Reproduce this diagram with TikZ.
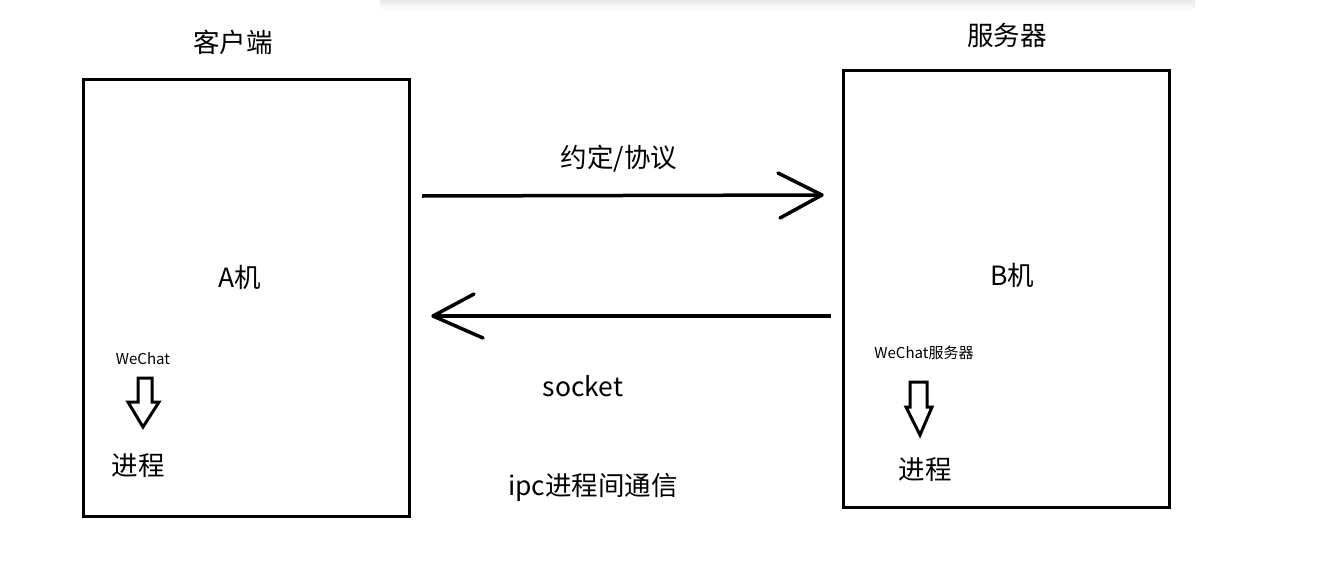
\documentclass[tikz,border=0pt]{standalone}
\usepackage{fontspec}
\setmainfont{Noto Sans CJK SC}
\begin{document}
\begin{tikzpicture}[x=1pt,y=-1pt,
  box/.style={draw=black,line width=3pt,inner sep=0pt},
  link/.style={line width=3.5pt},
  big/.style={font=\fontsize{26.5}{30}\selectfont,inner sep=0pt},
  small/.style={font=\fontsize{15}{17}\selectfont,inner sep=0pt},
  blockarrow/.style={draw=black,line width=3pt,fill=white,line join=miter}]
\useasboundingbox (0,0) rectangle (1318,573);
\fill[white] (0,0) rectangle (1318,573);
\shade[top color=black!9,bottom color=white] (380,0) rectangle (1195,10);
% boxes
\draw[box] (83,79) rectangle (409,516);
\draw[box] (843,70) rectangle (1169,507);
% titles
\node[big] (tA) at (233,42) {客户端};
\node[big] (tB) at (1007,35) {服务器};
\node[big] (mA) at (240,277) {A机};
\node[big] (mB) at (1012,275) {B机};
\node[big] (proto) at (619,159) {约定/协议};
\node[big] (sock) at (583,386) {socket};
\node[big] (ipc) at (593,487) {ipc进程间通信};
\node[small] (wA) at (143,359) {WeChat};
\node[small] (wB) at (924,353) {WeChat服务器};
\node[big] (pA) at (138,466) {进程};
\node[big] (pB) at (925,470) {进程};
% connectors
\coordinate (r1) at (422,196);
\coordinate (r2) at (822,195);
\draw[link] (r1) -- (r2);
\draw[link,line cap=round,line join=round] (778,173) -- (r2) -- (780,218);
\coordinate (l1) at (831,316);
\coordinate (l2) at (433,316);
\draw[link] (l1) -- (l2);
\draw[link,line cap=round,line join=round] (474,294) -- (l2) -- (483,338);
% block arrows
\draw[blockarrow] (138,378) -- (152,378) -- (152,402) -- (159,402) -- (143,427) -- (128,402) -- (138,402) -- cycle;
\draw[blockarrow] (910,382) -- (927,382) -- (927,407) -- (932,407) -- (920,435) -- (906,407) -- (910,407) -- cycle;
\end{tikzpicture}
\end{document}
